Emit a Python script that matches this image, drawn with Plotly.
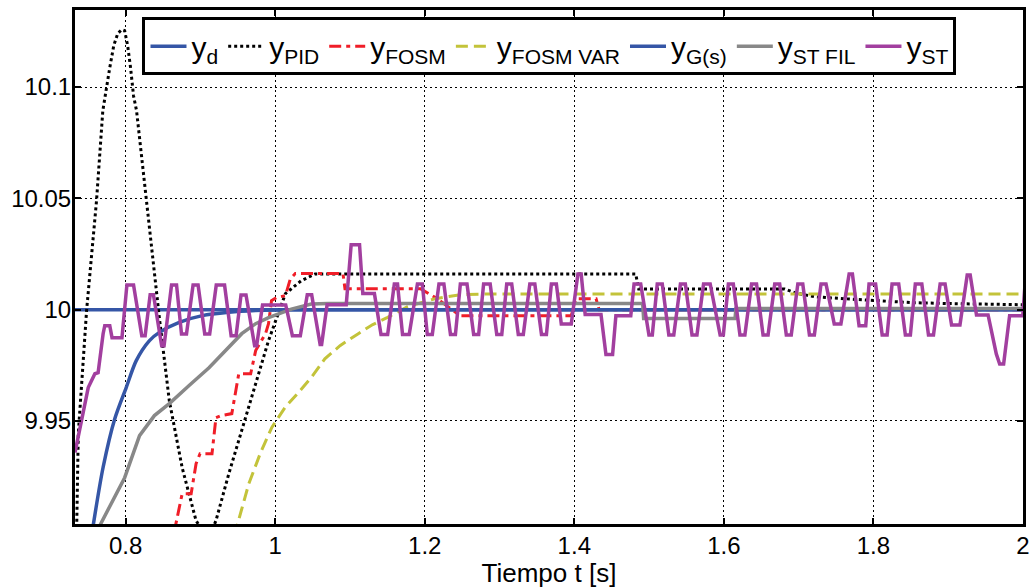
import plotly.graph_objects as go

# Setpoint
t_d = [0.7323, 2.0]
y_d = [10.0, 10.0]

# PID response
t_pid = [0.7323, 0.7346, 0.7367, 0.7478, 0.7611, 0.7695, 0.7788, 0.7841, 0.7894, 0.7947,
         0.7987, 0.8027, 0.8066, 0.8106, 0.8146, 0.8275, 0.8451, 0.8584, 0.8756, 0.8942,
         0.9048, 0.9141, 0.9208, 0.9380, 0.9606, 0.9911, 1.0137, 1.0349, 1.0535, 1.4821,
         1.4861, 1.6812, 1.6945, 1.7210, 1.7609, 1.8007, 1.8537, 1.9068, 2.0]
y_pid = [9.8940, 9.9030, 9.9443, 9.9996, 10.0490, 10.0894, 10.1087, 10.1186, 10.1240, 10.1258,
         10.1253, 10.1186, 10.1087, 10.0960, 10.0894, 10.0490, 9.9964, 9.9591, 9.9290, 9.9052,
         9.8998, 9.8998, 9.9052, 9.9263, 9.9515, 9.9861, 10.0072, 10.0130, 10.0160, 10.0160,
         10.0093, 10.0093, 10.0076, 10.0058, 10.0049, 10.0040, 10.0031, 10.0027, 10.0022]

# FOSM response
t_fosm = [0.8624, 0.8756, 0.8876, 0.8942, 0.8995, 0.9155, 0.9208, 0.9274, 0.9420, 0.9513,
          0.9672, 0.9739, 0.9871, 0.9911, 0.9951, 1.0017, 1.0137, 1.0203, 1.0269, 1.0906,
          1.0933, 1.1942, 1.2167, 1.2472, 1.3959, 1.4025, 1.4291, 1.4331, 2.0]
y_fosm = [9.8960, 9.9173, 9.9173, 9.9308, 9.9353, 9.9353, 9.9515, 9.9524, 9.9533, 9.9712,
          9.9712, 9.9816, 9.9892, 9.9937, 10.0040, 10.0054, 10.0063, 10.0139, 10.0162, 10.0162,
          10.0094, 10.0094, 10.0049, 9.9973, 9.9973, 10.0049, 10.0049, 10.0000, 10.0000]

# FOSM with variable parameters
t_fvar = [0.9460, 0.9491, 0.9646, 0.9805, 0.9955, 1.0133, 1.0309, 1.0486, 1.0664, 1.0867,
          1.1106, 1.1305, 1.1504, 1.1769, 1.2123, 1.2476, 1.2831, 2.0]
y_fvar = [9.8985, 9.9030, 9.9217, 9.9358, 9.9471, 9.9561, 9.9627, 9.9696, 9.9779, 9.9838,
          9.9891, 9.9933, 9.9965, 10.0013, 10.0048, 10.0067, 10.0070, 10.0070]

# Reference model G(s)
t_g = [0.7536, 0.7566, 0.7699, 0.7854, 0.8009, 0.8142, 0.8319, 0.8451, 0.8717, 0.9026,
       0.9380, 0.9735, 1.0176, 2.0]
y_g = [9.8962, 9.9030, 9.9292, 9.9509, 9.9651, 9.9771, 9.9861, 9.9898, 9.9943, 9.9973,
       9.9988, 9.9996, 10.0000, 10.0000]

# Filtered super-twisting output
t_stf = [0.7628, 0.7655, 0.7987, 0.8186, 0.8385, 0.8584, 0.8849, 0.9115, 0.9553, 0.9739,
         0.9911, 0.9977, 1.0216, 1.0482, 1.0707, 1.4914, 1.4927, 1.6149, 1.6162, 2.0]
y_stf = [9.8985, 9.9030, 9.9245, 9.9434, 9.9524, 9.9578, 9.9659, 9.9739, 9.9892, 9.9937,
         9.9964, 9.9973, 10.0002, 10.0025, 10.0027, 10.0027, 9.9960, 9.9960, 10.0005, 10.0005]

# Super-twisting output
t_st = [0.7323, 0.7412, 0.7500, 0.7589, 0.7632, 0.7699, 0.7721, 0.7788, 0.7818, 0.7951,
        0.8017, 0.8106, 0.8216, 0.8261, 0.8328, 0.8372, 0.8482, 0.8514, 0.8614, 0.8681,
        0.8747, 0.8814, 0.8902, 0.8969, 0.9058, 0.9124, 0.9212, 0.9323, 0.9411, 0.9477,
        0.9543, 0.9610, 0.9725, 0.9752, 0.9831, 1.0141, 1.0230, 1.0336, 1.0429, 1.0488,
        1.0601, 1.0621, 1.0694, 1.0950, 1.1016, 1.1128, 1.1172, 1.1327, 1.1415, 1.1504,
        1.1593, 1.1636, 1.1703, 1.1792, 1.1902, 1.1968, 1.2034, 1.2101, 1.2190, 1.2256,
        1.2344, 1.2410, 1.2476, 1.2565, 1.2654, 1.2721, 1.2787, 1.2875, 1.2963, 1.3030,
        1.3096, 1.3163, 1.3251, 1.3318, 1.3405, 1.3472, 1.3561, 1.3627, 1.3693, 1.3760,
        1.3826, 1.3959, 1.4048, 1.4092, 1.4145, 1.4357, 1.4423, 1.4512, 1.4556, 1.4755,
        1.4799, 1.4888, 1.4998, 1.5043, 1.5109, 1.5176, 1.5264, 1.5330, 1.5419, 1.5485,
        1.5574, 1.5640, 1.5728, 1.5817, 1.5950, 1.5993, 1.6060, 1.6126, 1.6215, 1.6281,
        1.6370, 1.6437, 1.6524, 1.6591, 1.6680, 1.6746, 1.6835, 1.6901, 1.6989, 1.7055,
        1.7144, 1.7210, 1.7299, 1.7366, 1.7476, 1.7565, 1.7675, 1.7719, 1.7808, 1.7897,
        1.7941, 1.8029, 1.8117, 1.8183, 1.8249, 1.8338, 1.8427, 1.8494, 1.8560, 1.8647,
        1.8736, 1.8803, 1.8892, 1.8958, 1.9045, 1.9157, 1.9254, 1.9294, 1.9378, 1.9533,
        1.9643, 1.9688, 1.9741, 1.9821, 1.9997, 2.0024]
y_st = [9.9358, 9.9501, 9.9650, 9.9712, 9.9717, 9.9892, 9.9928, 9.9928, 9.9874, 9.9874,
        10.0111, 10.0111, 9.9883, 9.9883, 10.0067, 10.0067, 9.9838, 9.9838, 10.0111, 10.0111,
        9.9891, 9.9891, 10.0111, 10.0111, 9.9891, 9.9891, 10.0111, 10.0111, 9.9883, 9.9883,
        10.0066, 10.0066, 9.9838, 9.9838, 10.0021, 10.0021, 9.9883, 9.9883, 10.0067, 10.0067,
        9.9843, 9.9843, 10.0022, 10.0022, 10.0292, 10.0292, 10.0072, 10.0072, 9.9888, 9.9888,
        10.0115, 10.0115, 9.9888, 9.9888, 10.0115, 10.0115, 9.9888, 9.9888, 10.0115, 10.0115,
        9.9888, 9.9888, 10.0115, 10.0115, 9.9888, 9.9888, 10.0115, 10.0115, 9.9888, 9.9888,
        10.0115, 10.0115, 9.9888, 9.9888, 10.0115, 10.0115, 9.9888, 9.9888, 10.0115, 10.0115,
        9.9936, 9.9936, 10.0160, 10.0160, 9.9978, 9.9978, 9.9798, 9.9798, 9.9973, 9.9973,
        10.0115, 10.0115, 9.9886, 9.9886, 10.0115, 10.0115, 9.9886, 9.9886, 10.0115, 10.0115,
        9.9886, 9.9886, 10.0115, 10.0115, 9.9886, 9.9886, 10.0115, 10.0115, 9.9886, 9.9886,
        10.0115, 10.0115, 9.9886, 9.9886, 10.0115, 10.0115, 9.9886, 9.9886, 10.0115, 10.0115,
        9.9886, 9.9886, 10.0115, 10.0115, 9.9936, 9.9936, 10.0160, 10.0160, 9.9928, 9.9928,
        10.0115, 10.0115, 9.9886, 9.9886, 10.0115, 10.0115, 9.9886, 9.9886, 10.0115, 10.0115,
        9.9886, 9.9886, 10.0115, 10.0115, 9.9931, 9.9931, 10.0156, 10.0156, 9.9976, 9.9976,
        9.9801, 9.9756, 9.9756, 9.9973, 9.9973, 10.0099]

x_ticks = [0.8, 1.0, 1.2, 1.4, 1.6, 1.8, 2.0]
x_labels = ["0.8", "1", "1.2", "1.4", "1.6", "1.8", "2"]
y_ticks = [9.95, 10.0, 10.05, 10.1]
y_labels = ["9.95", "10", "10.05", "10.1"]

BLUE = "#3556a6"
FONT = "Liberation Sans, Arial, Helvetica, sans-serif"

fig = go.Figure()
fig.add_trace(go.Scatter(x=t_d, y=y_d, mode="lines", name="y<sub>d</sub>",
                         line=dict(color=BLUE, width=3.5)))
fig.add_trace(go.Scatter(x=t_pid, y=y_pid, mode="lines", name="y<sub>PID</sub>",
                         line=dict(color="black", width=3, dash="3px,3px")))
fig.add_trace(go.Scatter(x=t_fosm, y=y_fosm, mode="lines", name="y<sub>FOSM</sub>",
                         line=dict(color="#f01e28", width=3, dash="12px,5px,4px,5px")))
fig.add_trace(go.Scatter(x=t_fvar, y=y_fvar, mode="lines", name="y<sub>FOSM VAR</sub>",
                         line=dict(color="#c3c33a", width=3, dash="12px,6px")))
fig.add_trace(go.Scatter(x=t_g, y=y_g, mode="lines", name="y<sub>G(s)</sub>",
                         line=dict(color=BLUE, width=3.5, shape="spline", smoothing=0.8)))
fig.add_trace(go.Scatter(x=t_stf, y=y_stf, mode="lines", name="y<sub>ST FIL</sub>",
                         line=dict(color="#888888", width=3.5)))
fig.add_trace(go.Scatter(x=t_st, y=y_st, mode="lines", name="y<sub>ST</sub>",
                         line=dict(color="#a23f9f", width=3.5)))

axis_common = dict(
    showline=True, linecolor="black", linewidth=3, mirror="ticks",
    ticks="inside", ticklen=6, tickwidth=2, tickcolor="black",
    showgrid=True, gridcolor="black", gridwidth=1, griddash="2px,3px",
    zeroline=False, tickfont=dict(family=FONT, size=24, color="black"),
)

fig.update_xaxes(range=[0.7323, 2.0], tickvals=x_ticks, ticktext=x_labels,
                 ticklabelstandoff=-2,
                 title=dict(text="Tiempo t [s]", font=dict(family=FONT, size=26, color="black"),
                            standoff=0),
                 **axis_common)
fig.update_yaxes(range=[9.9037, 10.1346], tickvals=y_ticks, ticktext=y_labels,
                 ticklabelstandoff=-4,
                 **axis_common)

fig.update_layout(
    width=1034, height=588,
    margin=dict(l=75, r=4, t=10, b=64),
    paper_bgcolor="white", plot_bgcolor="white",
    showlegend=True,
    legend=dict(orientation="h", x=0.0712, y=0.986, xanchor="left", yanchor="top",
                bgcolor="white", bordercolor="black", borderwidth=3,
                font=dict(family=FONT, size=30, color="black"),
                itemwidth=36, tracegroupgap=0),
)

fig.write_html("out.html")
